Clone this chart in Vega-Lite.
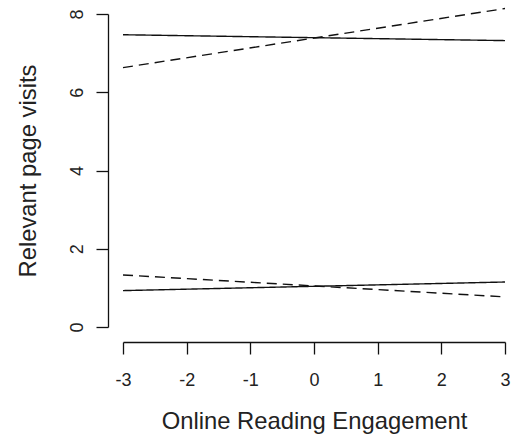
{
  "$schema": "https://vega.github.io/schema/vega-lite/v6.json",
  "width": 382,
  "height": 313,
  "autosize": "none",
  "padding": {"left": 123, "top": 14, "right": 9, "bottom": 114},
  "background": "white",
  "config": {
    "view": {"stroke": null},
    "font": "Liberation Sans",
    "axis": {
      "grid": false,
      "domainColor": "#111",
      "tickColor": "#111",
      "domainWidth": 1.3,
      "tickWidth": 1.3,
      "tickSize": 12,
      "labelFont": "Liberation Sans",
      "labelFontSize": 18,
      "labelColor": "#222",
      "titleFont": "Liberation Sans",
      "titleFontSize": 23.8,
      "titleFontWeight": "normal",
      "titleColor": "#222",
      "offset": 15
    }
  },
  "data": {
    "values": [
      {"x": -3, "y": 7.47, "line": "top solid", "type": "solid"},
      {"x": 3, "y": 7.32, "line": "top solid", "type": "solid"},
      {"x": -3, "y": 6.63, "line": "top dashed", "type": "dashed"},
      {"x": 3, "y": 8.14, "line": "top dashed", "type": "dashed"},
      {"x": -3, "y": 0.93, "line": "bottom solid", "type": "solid"},
      {"x": 3, "y": 1.15, "line": "bottom solid", "type": "solid"},
      {"x": -3, "y": 1.33, "line": "bottom dashed", "type": "dashed"},
      {"x": 3, "y": 0.77, "line": "bottom dashed", "type": "dashed"}
    ]
  },
  "mark": {"type": "line", "color": "#111", "strokeWidth": 1.4, "clip": false},
  "encoding": {
    "x": {
      "field": "x",
      "type": "quantitative",
      "scale": {"domain": [-3, 3], "nice": false, "zero": false},
      "axis": {
        "title": "Online Reading Engagement",
        "values": [-3, -2, -1, 0, 1, 2, 3],
        "labelExpr": "(datum.value < 0 ? '-' : '') + abs(datum.value)",
        "labelPadding": 17,
        "titlePadding": 20,
        "labelFlush": false
      }
    },
    "y": {
      "field": "y",
      "type": "quantitative",
      "scale": {"domain": [0, 8], "nice": false},
      "axis": {
        "title": "Relevant page visits",
        "values": [0, 2, 4, 6, 8],
        "labelAngle": -90,
        "labelAlign": "center",
        "labelBaseline": "bottom",
        "labelPadding": 10,
        "titlePadding": 28,
        "labelFlush": false
      }
    },
    "detail": {"field": "line"},
    "strokeDash": {
      "field": "type",
      "type": "nominal",
      "scale": {"domain": ["solid", "dashed"], "range": [[1, 0], [10, 6]]},
      "legend": null
    }
  }
}
